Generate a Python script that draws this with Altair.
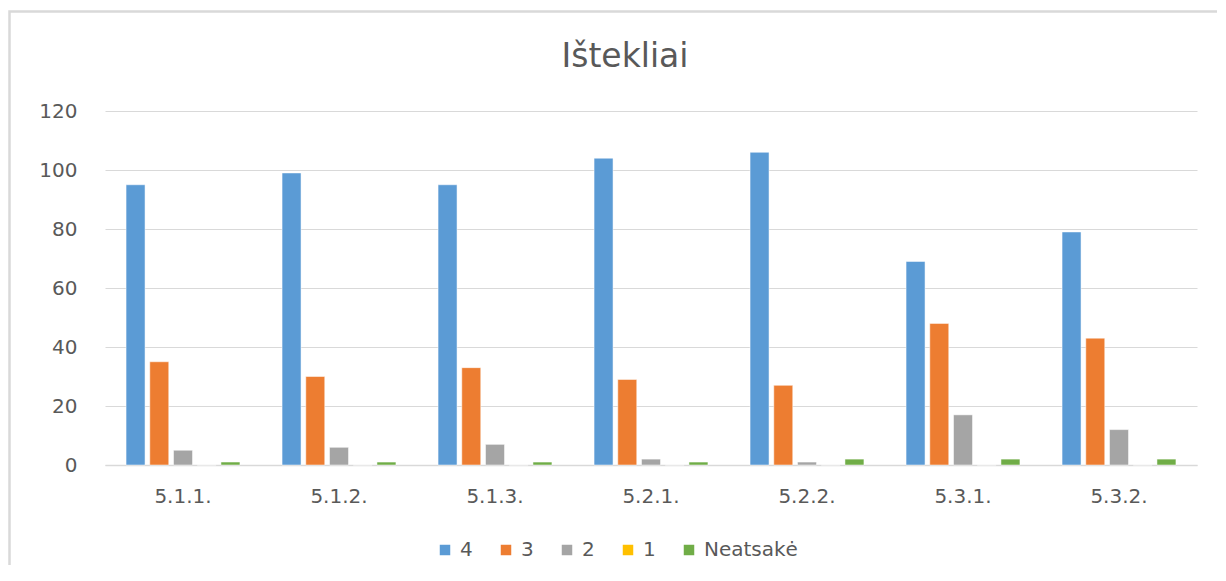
import altair as alt
import pandas as pd

categories = ["5.1.1.", "5.1.2.", "5.1.3.", "5.2.1.", "5.2.2.", "5.3.1.", "5.3.2."]
series_names = ["4", "3", "2", "1", "Neatsakė"]
v4 = [95, 99, 95, 104, 106, 69, 79]
v3 = [35, 30, 33, 29, 27, 48, 43]
v2 = [5, 6, 7, 2, 1, 17, 12]
v1 = [0, 0, 0, 0, 0, 0, 0]
vn = [1, 1, 1, 1, 2, 2, 2]
colors = ["#5B9BD5", "#ED7D31", "#A5A5A5", "#FFC000", "#70AD47"]
title_text = "Ištekliai"

rows = []
for s, vals in zip(series_names, [v4, v3, v2, v1, vn]):
    for c, v in zip(categories, vals):
        rows.append({"cat": c, "series": s, "value": v})
df = pd.DataFrame(rows)

font = "DejaVu Sans"
grey = "#595959"

one = pd.DataFrame({"t": [title_text]})

border = alt.Chart(one).mark_rect(
    fill=None, stroke="#d9d9d9", strokeWidth=2.5
).encode(x=alt.value(-95.5), x2=alt.value(3000), y=alt.value(-99.5), y2=alt.value(3000))

title = alt.Chart(one).mark_text(
    font=font, fontSize=33, color=grey, align="center", baseline="middle"
).encode(text="t:N", x=alt.value(520), y=alt.value(-54))

bars = alt.Chart(df).mark_bar(stroke="white", strokeWidth=0.5).encode(
    x=alt.X("cat:N", sort=categories, title=None,
            scale=alt.Scale(paddingInner=0.27, paddingOuter=0.135),
            axis=alt.Axis(labelAngle=0, labelFontSize=20, labelColor=grey, labelFont=font,
                          ticks=False, domainColor="#d9d9d9", domainWidth=1.5, labelPadding=21)),
    xOffset=alt.XOffset("series:N", sort=series_names, scale=alt.Scale(paddingInner=0.2)),
    y=alt.Y("value:Q", title=None,
            scale=alt.Scale(domain=[0, 120]),
            axis=alt.Axis(values=[0, 20, 40, 60, 80, 100, 120], labelFontSize=20, labelColor=grey,
                          labelFont=font, ticks=False, domain=False, gridColor="#d9d9d9",
                          labelPadding=28)),
    color=alt.Color("series:N", sort=series_names,
                    scale=alt.Scale(domain=series_names, range=colors),
                    legend=alt.Legend(title=None, orient="none", direction="horizontal",
                                      legendX=330, legendY=429, symbolType="square",
                                      symbolSize=110, symbolStrokeWidth=0, labelFontSize=20,
                                      labelColor=grey, labelFont=font, columnPadding=23,
                                      labelOffset=5)),
)

chart = alt.layer(border, title, bars).properties(
    width=1092,
    height=354,
    padding={"left": 97, "top": 103, "right": 20, "bottom": 100},
    autosize=alt.AutoSizeParams(type="none"),
).configure_view(stroke=None).configure_axis(gridWidth=1)

chart.save("out.html", embed_options={"renderer": "svg", "actions": False})
